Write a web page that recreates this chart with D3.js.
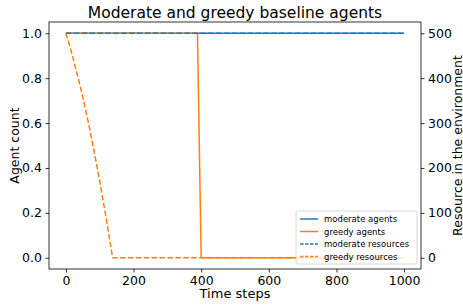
<!DOCTYPE html>
<html><head><meta charset="utf-8">
<script src="https://cdn.jsdelivr.net/npm/d3@7"></script>
<style>body{margin:0;background:#fff}svg{display:block;font-family:"DejaVu Sans",sans-serif}</style>
</head><body>
<script>
const title = "Moderate and greedy baseline agents";
const xTicks = [0,200,400,600,800,1000];
const yTicks = [0.0,0.2,0.4,0.6,0.8,1.0];
const y2Ticks = [0,100,200,300,400,500];
const moderateAgents = [[0,1],[1000,1]];
const greedyAgents = [[0,1],[389,1],[400,0],[1000,0]];
const moderateResources = [[0,500],[1000,500]];
const greedyResources = [[0,500],[10,475],[20,448],[30,419],[40,389],[50,357],[60,323],[70,288],[80,250],[90,211],[100,170],[110,128],[120,84],[130,38],[138,0],[400,0],[1000,0]];
const seriesNames = ["moderate agents","greedy agents","moderate resources","greedy resources"];

const W=463,H=305;
const L=49,R=421,T=22,B=269;
const svg=d3.select("body").append("svg").attr("width",W).attr("height",H);
const x=d3.scaleLinear().domain([-50,1050]).range([L,R]);
const y=d3.scaleLinear().domain([-0.05,1.05]).range([B,T]);
const y2=d3.scaleLinear().domain([-25,525]).range([B,T]);
const blue="#1f77b4",orange="#ff7f0e";

const line1=d3.line().x(d=>x(d[0])).y(d=>y(d[1]));
const line2=d3.line().x(d=>x(d[0])).y(d=>y2(d[1]));
const g=svg.append("g");
g.append("path").datum(moderateAgents).attr("d",line1).attr("fill","none").attr("stroke",blue).attr("stroke-width",1.5);
g.append("path").datum(greedyAgents).attr("d",line1).attr("fill","none").attr("stroke",orange).attr("stroke-width",1.5);
g.append("path").datum(moderateResources).attr("d",line2).attr("fill","none").attr("stroke",blue).attr("stroke-width",1.5).attr("stroke-dasharray","5.5,2.4");
g.append("path").datum(greedyResources).attr("d",line2).attr("fill","none").attr("stroke",orange).attr("stroke-width",1.5).attr("stroke-dasharray","5.5,2.4");

function styleAxis(sel){
  sel.selectAll("text").attr("font-size",12.5).attr("fill","#000").attr("font-family","DejaVu Sans");
  sel.selectAll("line").attr("stroke","#000").attr("stroke-width",0.8);
  sel.select(".domain").remove();
}
svg.append("g").attr("transform",`translate(0,${B})`).call(d3.axisBottom(x).tickValues(xTicks).tickFormat(d3.format("d")).tickSize(3.5).tickPadding(3.5)).call(styleAxis);
svg.append("g").attr("transform",`translate(${L},0)`).call(d3.axisLeft(y).tickValues(yTicks).tickFormat(d3.format(".1f")).tickSize(3.5).tickPadding(3.5)).call(styleAxis);
svg.append("g").attr("transform",`translate(${R},0)`).call(d3.axisRight(y2).tickValues(y2Ticks).tickFormat(d3.format("d")).tickSize(3.5).tickPadding(3.5)).call(styleAxis);

svg.append("rect").attr("x",L).attr("y",T).attr("width",R-L).attr("height",B-T).attr("fill","none").attr("stroke","#000").attr("stroke-width",0.8);

svg.append("text").attr("x",(L+R)/2).attr("y",17.5).attr("text-anchor","middle").attr("font-size",15.5).text(title);
svg.append("text").attr("x",(L+R)/2).attr("y",298).attr("text-anchor","middle").attr("font-size",13).text("Time steps");
svg.append("text").attr("transform",`translate(19,${(T+B)/2}) rotate(-90)`).attr("text-anchor","middle").attr("font-size",12.5).text("Agent count");
svg.append("text").attr("transform",`translate(461.5,${(T+B)/2}) rotate(-90)`).attr("text-anchor","middle").attr("font-size",12.5).text("Resource in the environment");

// legend
const lg=svg.append("g");
lg.append("rect").attr("x",296).attr("y",211).attr("width",121).attr("height",53).attr("rx",2).attr("fill","#fff").attr("fill-opacity",0.8).attr("stroke","#ccc").attr("stroke-width",0.8);
const colors=[blue,orange,blue,orange],dashes=[null,null,"3.5,1.5","3.5,1.5"];
seriesNames.forEach((n,i)=>{
  const yy=219+i*12.5;
  lg.append("line").attr("x1",300).attr("x2",318).attr("y1",yy).attr("y2",yy).attr("stroke",colors[i]).attr("stroke-width",1.5).attr("stroke-dasharray",dashes[i]);
  lg.append("text").attr("x",324).attr("y",yy+3).attr("font-size",8.5).attr("fill","#000").text(n);
});
</script>
</body></html>
